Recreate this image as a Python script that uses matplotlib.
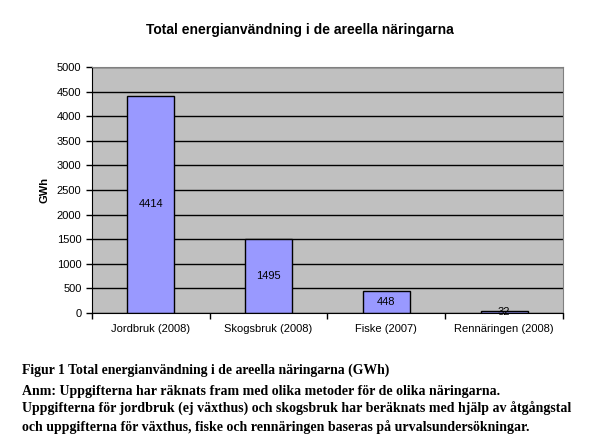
import matplotlib.pyplot as plt
import numpy as np

kategorier = ['Jordbruk (2008)', 'Skogsbruk (2008)', 'Fiske (2007)', 'Rennäringen (2008)']
varden = [4414, 1495, 448, 32]
yticks = list(range(0, 5001, 500))

plt.rcParams['font.family'] = ['Liberation Sans', 'DejaVu Sans']

fig = plt.figure(figsize=(6.14, 4.37), dpi=100)
ax = fig.add_axes([0.1498, 0.2845, 0.767, 0.5616])

x = np.arange(len(kategorier))
ax.set_facecolor('#C0C0C0')
ax.set_axisbelow(True)
ax.yaxis.grid(True, color='black', linewidth=1)
ax.bar(x, varden, width=0.4, color='#9999FF', edgecolor='black', linewidth=1)

for xi, v in zip(x, varden):
    ax.text(xi, v / 2, str(v), ha='center', va='center', fontsize=8)

ax.set_xlim(-0.5, len(kategorier) - 0.5)
ax.set_ylim(0, 5000)
ax.set_yticks(yticks)
ax.tick_params(axis='y', labelsize=8, direction='out', length=4, width=1)

# Excel-style: tick marks between categories, labels at centres
ax.set_xticks(np.arange(-0.5, len(kategorier), 1))
ax.set_xticklabels([])
ax.set_xticks(x, minor=True)
ax.set_xticklabels(kategorier, minor=True, fontsize=8)
ax.tick_params(axis='x', which='minor', length=0, pad=8)
ax.tick_params(axis='x', which='major', direction='out', length=4, width=1)

for side in ['top', 'right']:
    ax.spines[side].set_color('#808080')
for side in ['left', 'bottom']:
    ax.spines[side].set_color('black')

ax.set_ylabel('GWh', fontsize=8, fontweight='bold', labelpad=5)

fig.text(0.489, 0.932, 'Total energianvändning i de areella näringarna',
         ha='center', va='center', fontsize=10, fontweight='bold')

serif = ['Liberation Serif', 'DejaVu Serif']
fig.text(0.036, 0.153, 'Figur 1 Total energianvändning i de areella näringarna (GWh)',
         family=serif, fontsize=9.9, fontweight='bold', va='center')
anm = ['Anm: Uppgifterna har räknats fram med olika metoder för de olika näringarna.',
       'Uppgifterna för jordbruk (ej växthus) och skogsbruk har beräknats med hjälp av åtgångstal',
       'och uppgifterna för växthus, fiske och rennäringen baseras på urvalsundersökningar.']
for i, rad in enumerate(anm):
    fig.text(0.036, 0.104 - i * 0.041, rad, family=serif, fontsize=10,
             fontweight='bold', va='center')

fig.savefig('out.png', dpi=100)
